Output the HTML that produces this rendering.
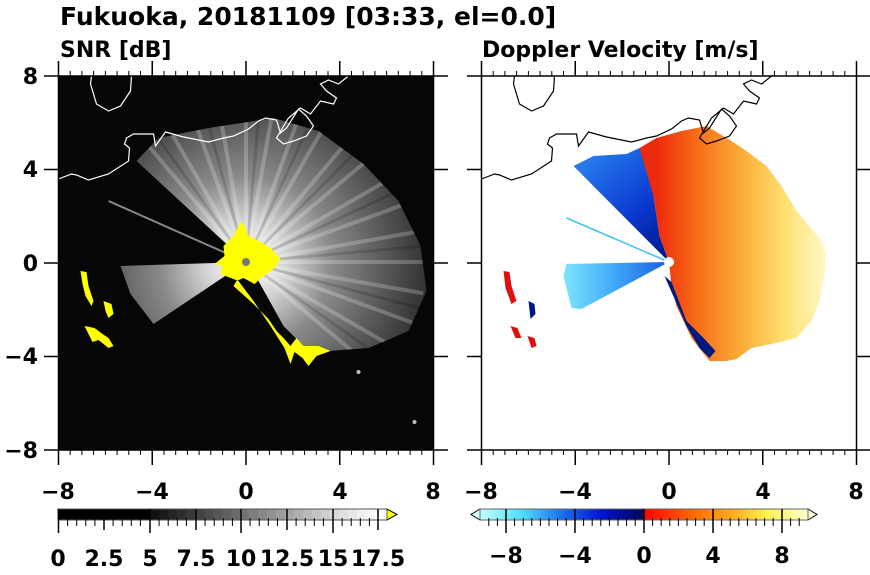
<!DOCTYPE html>
<html><head><meta charset="utf-8"><style>
html,body{margin:0;padding:0;background:#fff;}
body{width:870px;height:570px;overflow:hidden;}
text{font-family:"DejaVu Sans","Liberation Sans",sans-serif;font-weight:bold;}
</style></head><body>
<svg width="870" height="570" viewBox="0 0 870 570" xmlns="http://www.w3.org/2000/svg">
<defs>
<radialGradient id="gw" cx="187.5" cy="186" r="190" gradientUnits="userSpaceOnUse">
<stop offset="0" stop-color="#fff"/><stop offset="0.2" stop-color="#d8d8d8"/><stop offset="0.45" stop-color="#8a8a8a"/><stop offset="0.75" stop-color="#555"/><stop offset="1" stop-color="#2a2a2a"/>
</radialGradient>
<linearGradient id="gv" x1="175" y1="0" x2="345" y2="0" gradientUnits="userSpaceOnUse">
<stop offset="0" stop-color="#ee2a0c"/><stop offset="0.25" stop-color="#f87018"/><stop offset="0.5" stop-color="#fbac38"/><stop offset="0.75" stop-color="#fde070"/><stop offset="1" stop-color="#fff8c8"/>
</linearGradient>
<linearGradient id="gb" x1="95" y1="85" x2="180" y2="180" gradientUnits="userSpaceOnUse">
<stop offset="0" stop-color="#2a80f0"/><stop offset="0.6" stop-color="#0a3ad0"/><stop offset="1" stop-color="#001a90"/>
</linearGradient>
<linearGradient id="gl" x1="80" y1="0" x2="185" y2="0" gradientUnits="userSpaceOnUse">
<stop offset="0" stop-color="#80e8ff"/><stop offset="0.5" stop-color="#40a8f8"/><stop offset="1" stop-color="#1a60e0"/>
</linearGradient>
<clipPath id="echo"><polygon points="187.5,186 78,85 100,62 150,52 215,42 260,55 305,88 340,125 362,170 368,215 350,255 310,272 270,275 245,270 225,250 200,205"/></clipPath>
<g id="coast">
<polyline fill="none" stroke-width="1.2" points="0,103 13,98 18,99 30,104 50,98 70,85 71,72 66,68 68,62 75,58 95,58 97,70 107,56 125,61 150,66 165,62 175,60 190,53 200,45 207,42 218,44 222,57 228,52 240,33 248,40 255,50 248,60 235,65 225,68 218,62 230,42 242,32 252,38 262,25 275,28 278,22 268,15 262,8 270,4 280,8 290,0"/>
<polyline fill="none" stroke-width="1.2" points="33,0 32,8 38,28 50,35 62,30 72,15 73,0"/>
</g>
</defs>

<text x="60" y="25" font-size="25">Fukuoka, 20181109 [03:33, el=0.0]</text>
<text x="60" y="57" font-size="22">SNR [dB]</text>
<text x="482" y="57" font-size="22">Doppler Velocity [m/s]</text>

<!-- Left panel -->
<g transform="translate(58.5,76)">
<rect x="0" y="0" width="375" height="374" fill="#060606"/>
<polygon fill="url(#gw)" points="187.5,186 78,85 100,62 150,52 215,42 260,55 305,88 340,125 362,170 368,215 350,255 310,272 270,275 245,270 225,250 200,205"/>
<g clip-path="url(#echo)" stroke="#fff" stroke-opacity="0.22" stroke-width="4">
<path d="M187.5,186L71.8,48.1M187.5,186L97.5,30.1M187.5,186L125.9,16.9M187.5,186L156.2,8.7M187.5,186L187.5,6M187.5,186L218.8,8.7M187.5,186L249.1,16.9M187.5,186L277.5,30.1M187.5,186L303.2,48.1M187.5,186L325.4,70.3M187.5,186L343.4,96M187.5,186L356.6,124.4M187.5,186L364.8,154.7M187.5,186L367.5,186M187.5,186L364.8,217.3M187.5,186L356.6,247.6M187.5,186L343.4,276M187.5,186L325.4,301.7"/>
</g>
<g clip-path="url(#echo)" stroke="#000" stroke-opacity="0.15" stroke-width="3">
<path d="M187.5,186L84,40M187.5,186L140,12M187.5,186L203,7M187.5,186L263,22M187.5,186L315,58M187.5,186L350,110M187.5,186L366,170M187.5,186L361,232M187.5,186L335,290"/>
</g>
<polygon fill="url(#gw)" points="187.5,186 62,190 72,218 95,248"/>
<line x1="187.5" y1="186" x2="50" y2="125" stroke="#888" stroke-width="2"/>
<polygon fill="#ffff00" points="165,170 175,160 182,146 186,150 190,160 200,165 212,172 222,183 215,193 205,200 196,208 185,202 178,205 175,210 195,228 210,243 218,255 225,262 232,270 238,262 245,270 260,270 272,275 258,280 250,290 244,282 236,276 232,288 226,272 212,250 195,225 180,205 162,198 164,190 156,188 166,180"/>
<polygon fill="#ffff00" points="22,195 28,196 30,210 35,225 33,230 27,220 24,208"/>
<polygon fill="#ffff00" points="45,225 53,228 55,238 50,242 47,235"/>
<polygon fill="#ffff00" points="26,250 36,252 44,258 50,262 55,270 50,272 40,264 34,266"/>
<circle cx="187.5" cy="186" r="4" fill="#777"/>
<circle cx="300" cy="296" r="2" fill="#bbb"/><circle cx="356" cy="346" r="2" fill="#bbb"/>
<g stroke="#fff"><use href="#coast"/></g>
<rect x="0" y="0" width="375" height="374" fill="none" stroke="#000" stroke-width="1.5"/>
</g>

<!-- Right panel -->
<g transform="translate(481.5,76)">
<rect x="0" y="0" width="375" height="374" fill="#fff"/>
<polygon fill="url(#gb)" points="187.5,186 92,90 112,80 145,78 158,72 175,82 172,120 178,160"/>
<polygon fill="url(#gv)" points="187.5,186 178,160 172,120 158,72 175,62 200,55 225,50 250,65 265,75 285,90 300,110 315,135 328,150 340,165 345,178 343,200 338,225 330,245 315,262 290,268 270,272 255,283 245,285 228,285 220,275 210,262 195,230 190,210"/>
<polygon fill="#001a80" points="183,200 190,206 205,245 222,262 234,275 228,282 218,272 205,250"/>
<line x1="187.5" y1="186" x2="85" y2="142" stroke="#40c0f0" stroke-width="1.5"/>
<polygon fill="url(#gl)" points="187.5,186 85,188 82,200 90,232 100,233"/>
<polygon fill="#e01010" points="22,195 28,196 30,210 35,225 30,228 24,212"/>
<polygon fill="#001a80" points="47,225 53,228 54,238 49,243"/>
<polygon fill="#e01010" points="29,250 36,252 40,262 34,262"/>
<polygon fill="#e01010" points="46,260 53,262 55,270 50,272"/>
<circle cx="187.5" cy="186" r="5" fill="#fff"/>
<g stroke="#000"><use href="#coast"/></g>
<rect x="0" y="0" width="375" height="374" fill="none" stroke="#000" stroke-width="1.5"/>
</g>

<!-- ticks -->
<g stroke="#000" stroke-width="1.5">
<path d="M58.5,76 V61 M152.25,76 V61 M246,76 V61 M339.75,76 V61 M433.5,76 V61
M58.5,450 V465 M152.25,450 V465 M246,450 V465 M339.75,450 V465 M433.5,450 V465
M58.5,76 H44 M58.5,169.5 H44 M58.5,263 H44 M58.5,356.5 H44 M58.5,450 H44
M433.5,76 H448 M433.5,169.5 H448 M433.5,263 H448 M433.5,356.5 H448 M433.5,450 H448"/>
<path d="M481.5,76 V61 M575.25,76 V61 M669,76 V61 M762.75,76 V61 M856.5,76 V61
M481.5,450 V465 M575.25,450 V465 M669,450 V465 M762.75,450 V465 M856.5,450 V465
M481.5,76 H467 M481.5,169.5 H467 M481.5,263 H467 M481.5,356.5 H467 M481.5,450 H467
M856.5,76 H870 M856.5,169.5 H870 M856.5,263 H870 M856.5,356.5 H870 M856.5,450 H870"/>
</g>
<g stroke="#000" stroke-width="1">
<path id="mn" d="M70.2,76V71M81.9,76V71M93.6,76V71M105.4,76V71M117.1,76V71M128.8,76V71M140.5,76V71M164,76V71M175.7,76V71M187.4,76V71M199.1,76V71M210.8,76V71M222.6,76V71M234.3,76V71M257.7,76V71M269.4,76V71M281.2,76V71M292.9,76V71M304.6,76V71M316.3,76V71M328,76V71M351.5,76V71M363.2,76V71M374.9,76V71M386.6,76V71M398.3,76V71M410.1,76V71M421.8,76V71"/>
<use href="#mn" transform="translate(0,379)"/>
<use href="#mn" transform="translate(423,0)"/>
<use href="#mn" transform="translate(423,379)"/>
</g>

<!-- tick labels -->
<g font-size="22" text-anchor="end">
<text x="38" y="84">8</text><text x="38" y="177">4</text><text x="38" y="271">0</text><text x="38" y="364">−4</text><text x="38" y="458">−8</text>
</g>
<g font-size="22" text-anchor="middle">
<text x="58" y="499">−8</text><text x="152" y="499">−4</text><text x="246" y="499">0</text><text x="340" y="499">4</text><text x="433" y="499">8</text>
<text x="481" y="499">−8</text><text x="575" y="499">−4</text><text x="669" y="499">0</text><text x="763" y="499">4</text><text x="856" y="499">8</text>
</g>

<!-- left colorbar -->
<g>
<rect x="58" y="509" width="92" height="11" fill="#000"/>
<rect x="150" y="509" width="9.1" height="11" fill="#111"/><rect x="159" y="509" width="9.1" height="11" fill="#1a1a1a"/>
<rect x="168" y="509" width="9.1" height="11" fill="#242424"/><rect x="177" y="509" width="9.1" height="11" fill="#2e2e2e"/>
<rect x="186" y="509" width="9.1" height="11" fill="#383838"/><rect x="195" y="509" width="9.1" height="11" fill="#424242"/>
<rect x="204" y="509" width="9.1" height="11" fill="#4c4c4c"/><rect x="213" y="509" width="9.1" height="11" fill="#565656"/>
<rect x="222" y="509" width="9.1" height="11" fill="#606060"/><rect x="231" y="509" width="9.1" height="11" fill="#6a6a6a"/>
<rect x="240" y="509" width="9.1" height="11" fill="#747474"/><rect x="249" y="509" width="9.1" height="11" fill="#7e7e7e"/>
<rect x="258" y="509" width="9.1" height="11" fill="#888"/><rect x="267" y="509" width="9.1" height="11" fill="#929292"/>
<rect x="276" y="509" width="9.1" height="11" fill="#9c9c9c"/><rect x="285" y="509" width="9.1" height="11" fill="#a6a6a6"/>
<rect x="294" y="509" width="9.1" height="11" fill="#b0b0b0"/><rect x="303" y="509" width="9.1" height="11" fill="#bababa"/>
<rect x="312" y="509" width="9.1" height="11" fill="#c4c4c4"/><rect x="321" y="509" width="9.1" height="11" fill="#cecece"/>
<rect x="330" y="509" width="9.1" height="11" fill="#d8d8d8"/><rect x="339" y="509" width="9.1" height="11" fill="#e0e0e0"/>
<rect x="348" y="509" width="9.1" height="11" fill="#e8e8e8"/><rect x="357" y="509" width="9.1" height="11" fill="#efefef"/>
<rect x="366" y="509" width="9.1" height="11" fill="#f5f5f5"/><rect x="375" y="509" width="12" height="11" fill="#fbfbfb"/>
<polygon points="387,509 397,514.5 387,520" fill="#ffff00" stroke="#000"/>
<rect x="58" y="509" width="329" height="11" fill="none" stroke="#555" stroke-width="1"/>
<path stroke="#000" stroke-width="1.5" d="M58.5,509V533M104,509V530M150,509V533M196,509V530M241,509V533M287,509V530M333,509V533M378,509V530"/>
<path stroke="#000" stroke-width="1" d="M67.6,518V526M76.7,518V526M85.8,518V526M94.9,518V526M113.1,518V526M122.2,518V526M131.3,518V526M140.4,518V526M159.1,518V526M168.2,518V526M177.3,518V526M186.4,518V526M205.1,518V526M214.2,518V526M223.3,518V526M232.4,518V526M250.1,518V526M259.2,518V526M268.3,518V526M277.4,518V526M296.1,518V526M305.2,518V526M314.3,518V526M323.4,518V526M342.1,518V526M351.2,518V526M360.3,518V526M369.4,518V526"/>
</g>
<g font-size="22" text-anchor="middle">
<text x="58" y="566">0</text><text x="104" y="566">2.5</text><text x="150" y="566">5</text><text x="196" y="566">7.5</text><text x="241" y="566">10</text><text x="287" y="566">12.5</text><text x="333" y="566">15</text><text x="378" y="566">17.5</text>
</g>

<!-- right colorbar -->
<defs>
<linearGradient id="cbBlue" x1="0" x2="1"><stop offset="0" stop-color="#c0ffff"/><stop offset="0.25" stop-color="#50e0f8"/><stop offset="0.5" stop-color="#1a70f0"/><stop offset="0.75" stop-color="#0010d0"/><stop offset="1" stop-color="#000850"/></linearGradient>
<linearGradient id="cbRed" x1="0" x2="1"><stop offset="0" stop-color="#ff0000"/><stop offset="0.3" stop-color="#ff6a00"/><stop offset="0.55" stop-color="#ffb020"/><stop offset="0.75" stop-color="#fff050"/><stop offset="1" stop-color="#ffffd0"/></linearGradient>
</defs>
<g>
<polygon points="480,509 471,514.5 480,520" fill="#e0ffff" stroke="#000"/>
<rect x="480" y="509" width="164" height="11" fill="url(#cbBlue)"/>
<rect x="644" y="509" width="164" height="11" fill="url(#cbRed)"/>
<polygon points="808,509 817,514.5 808,520" fill="#ffffd8" stroke="#000"/>
<rect x="480" y="509" width="328" height="11" fill="none" stroke="#666" stroke-width="1"/>
<path stroke="#000" stroke-width="1.5" d="M506,509V533M575,509V533M644,509V533M713,509V533M782,509V533"/>
<path stroke="#000" stroke-width="1" d="M488.8,518V526M497.4,518V526M514.6,518V526M523.2,518V526M531.8,518V526M540.4,518V526M549,518V526M557.6,518V526M566.2,518V526M583.6,518V526M592.2,518V526M600.8,518V526M609.4,518V526M618,518V526M626.6,518V526M635.2,518V526M652.6,518V526M661.2,518V526M669.8,518V526M678.4,518V526M687,518V526M695.6,518V526M704.2,518V526M721.6,518V526M730.2,518V526M738.8,518V526M747.4,518V526M756,518V526M764.6,518V526M773.2,518V526M790.6,518V526M799.2,518V526"/>
</g>
<g font-size="22" text-anchor="middle">
<text x="506" y="563">−8</text><text x="575" y="563">−4</text><text x="644" y="563">0</text><text x="713" y="563">4</text><text x="782" y="563">8</text>
</g>
</svg>
</body></html>
